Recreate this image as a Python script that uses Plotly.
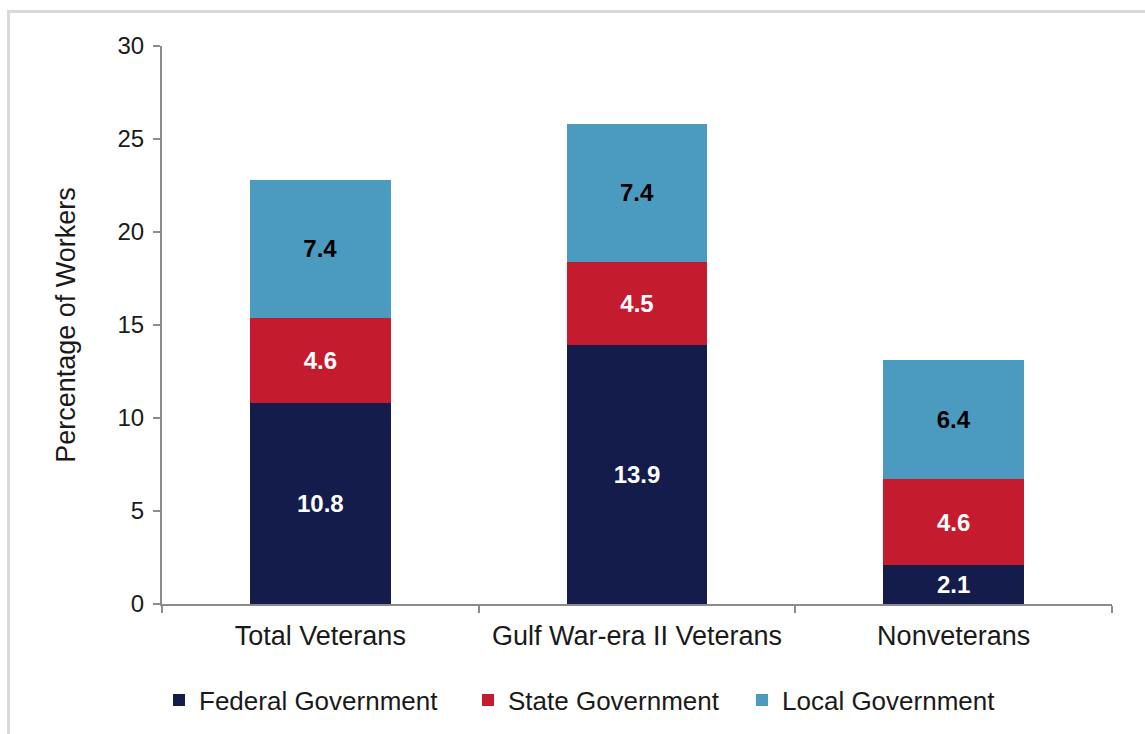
import plotly.graph_objects as go

# Share of workers employed in government, by veteran status
categories = ["Total Veterans", "Gulf War-era II Veterans", "Nonveterans"]
federal = [10.8, 13.9, 2.1]
state = [4.6, 4.5, 4.6]
local = [7.4, 7.4, 6.4]
y_ticks = [0, 5, 10, 15, 20, 25, 30]

series = [
    ("Federal Government", federal, "#141c4b", "white"),
    ("State Government", state, "#c41c2e", "white"),
    ("Local Government", local, "#4b9bc1", "black"),
]

FONT = "Liberation Sans, Arial, sans-serif"
AXIS_GRAY = "#8c8c8c"

# Plot area in pixels (figure is 1145 x 734)
L, R, T, B = 162, 33, 46, 130
W, H = 1145, 734
pw, ph = W - L - R, H - T - B

fig = go.Figure()
legend_names = ["legend", "legend2", "legend3"]
for (name, vals, color, tcolor), lg in zip(series, legend_names):
    fig.add_trace(go.Bar(
        name=name,
        x=categories,
        y=vals,
        marker=dict(color=color, line=dict(width=0)),
        text=[f"{v:.1f}" for v in vals],
        textposition="inside",
        insidetextanchor="middle",
        textangle=0,
        textfont=dict(family=FONT, size=24, color=tcolor, weight="bold"),
        legend=lg,
        showlegend=True,
    ))

# Legend entries placed individually along the bottom
legend_px = [159, 468, 742]
legend_cfg = {}
for lg, px in zip(legend_names, legend_px):
    legend_cfg[lg] = dict(
        x=(px - L) / pw,
        xanchor="left",
        y=(H - B - 700) / ph,
        yanchor="middle",
        orientation="h",
        font=dict(family=FONT, size=26, color="#1a1a1a"),
        bgcolor="rgba(0,0,0,0)",
        visible=True,
    )

fig.update_layout(
    width=W,
    height=H,
    barmode="stack",
    bargap=0.555,
    showlegend=True,
    paper_bgcolor="white",
    plot_bgcolor="white",
    margin=dict(l=L, r=R, t=T, b=B, autoexpand=False),
    font=dict(family=FONT, color="#1a1a1a"),
    **legend_cfg,
)

fig.update_xaxes(
    type="category",
    range=[-0.5, 2.5],
    showline=True,
    linecolor=AXIS_GRAY,
    linewidth=2,
    ticks="outside",
    tickson="boundaries",
    ticklen=7,
    tickwidth=2,
    tickcolor=AXIS_GRAY,
    showgrid=False,
    tickfont=dict(family=FONT, size=27, color="#1a1a1a"),
    ticklabelstandoff=7,
    automargin=False,
)

fig.update_yaxes(
    range=[0, 30],
    tickvals=y_ticks,
    showline=True,
    linecolor=AXIS_GRAY,
    linewidth=2,
    ticks="outside",
    ticklen=7,
    tickwidth=2,
    tickcolor=AXIS_GRAY,
    showgrid=False,
    zeroline=False,
    tickfont=dict(family=FONT, size=24, color="#1a1a1a"),
    ticklabelstandoff=4,
    title=dict(text="Percentage of Workers", font=dict(family=FONT, size=27, color="#1a1a1a"), standoff=34),
    automargin=False,
)

# Light frame around the chart
fig.add_shape(
    type="rect",
    xref="paper", yref="paper",
    x0=(8.5 - L) / pw, x1=2.0,
    y0=-2.0, y1=(H - B - 11.5) / ph,
    line=dict(color="#d9d9d9", width=3),
    fillcolor="rgba(0,0,0,0)",
    layer="below",
)

fig.write_html("out.html")
